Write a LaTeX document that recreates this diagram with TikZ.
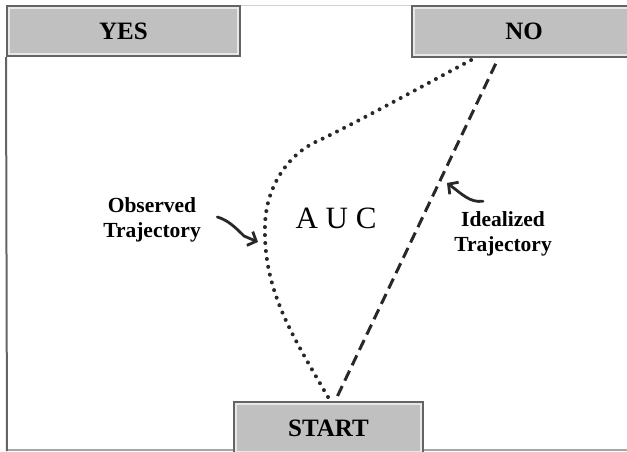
\documentclass[tikz,border=0pt]{standalone}
\usepackage{fontspec}
\setmainfont{Liberation Serif}
\usetikzlibrary{arrows.meta}
\definecolor{boxgray}{RGB}{192,192,192}
\definecolor{boxedge}{RGB}{100,100,100}
\definecolor{boxlight}{RGB}{232,232,232}
\definecolor{pen}{RGB}{40,40,40}

\begin{document}
\begin{tikzpicture}[x=1pt, y=-1pt,
  answer/.style={fill=boxgray, draw=boxedge, line width=2pt, inner sep=0pt,
    font=\fontsize{25}{29}\selectfont\bfseries,
    path picture={\draw[boxlight, line width=6pt] (path picture bounding box.south west)
      rectangle (path picture bounding box.north east);}},
  traj/.style={align=center, font=\fontsize{21.5}{25}\selectfont\bfseries},
  pointer/.style={pen, line width=2.8pt, line cap=round, -{Straight Barb[length=7pt, width=15pt]}}]
  \useasboundingbox (0,0) rectangle (627,451);
  % Cadre
  \draw[gray!35, line width=1pt] (240,5.5) -- (412,5.5);
  \draw[gray!70, line width=1.2pt] (7,450) -- (627,450);
  % Reponses et depart
  \node[answer, minimum width=233pt, minimum height=50pt] (yes) at (123.5,31) {YES};
  \node[answer, minimum width=224pt, minimum height=51pt] (no) at (524,31.5) {NO};
  \node[answer, minimum width=189pt, minimum height=52pt] (start) at (328.5,428) {START};
  \draw[boxedge, line width=2pt] (yes.south west) -- (7,451);
  % Trajectoire idealisee
  \draw[pen, line width=3pt, dash pattern=on 11pt off 6pt]
    ([xshift=9pt, yshift=5pt]start.north) -- ([xshift=-27pt, yshift=-3pt]no.south);
  % Trajectoire observee
  \draw[pen, line width=4pt, line cap=round, dash pattern=on 0pt off 8pt]
    ([xshift=-0.5pt, yshift=4pt]start.north) .. controls (292,335) and (263,290) .. (265,225)
    .. controls (266,185) and (290,152) .. (320,140)
    .. controls (365,118) and (430,82) .. ([xshift=-51pt, yshift=-1pt]no.south);
  % Aire
  \node[font=\fontsize{31}{36}\selectfont] (auc) at (336,218) {A U C};
  % Legendes
  \node[traj] (obs) at (152,220) {Observed\\Trajectory};
  \node[traj] (ideal) at (503,234) {Idealized\\Trajectory};
  \coordinate (obstip) at (258,242);
  \coordinate (idealtip) at (447,183);
  \draw[pointer] ([xshift=13pt, yshift=3pt]obs.east) .. controls (228,220) and (236,228) .. (244,236) -- (obstip);
  \draw[pointer] ([xshift=-20pt, yshift=7pt]ideal.north) .. controls (470,203) and (462,194) .. (idealtip);
\end{tikzpicture}
\end{document}
